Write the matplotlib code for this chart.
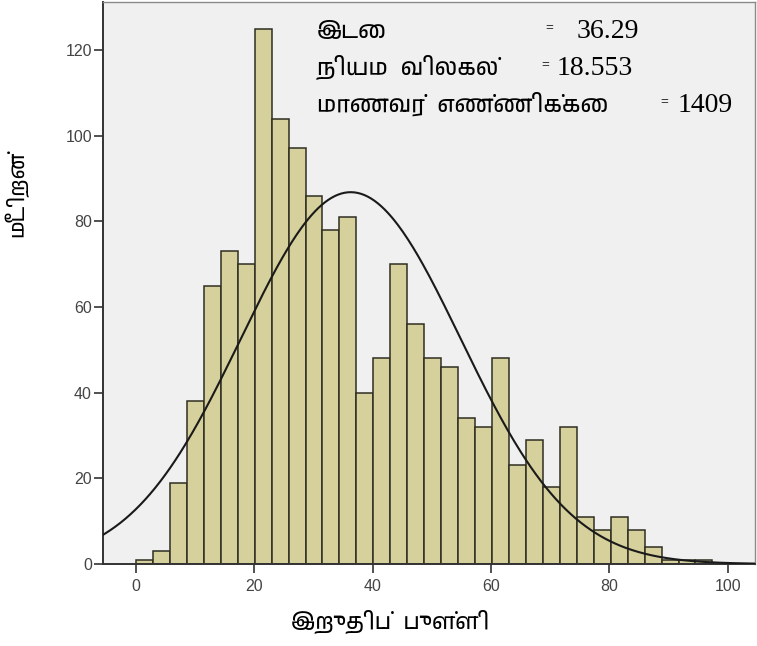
import matplotlib
matplotlib.use('Agg')
import matplotlib.pyplot as plt
from matplotlib import font_manager
import numpy as np

# histogram data (SPSS style output)
bin_start = 0.0
bin_width = 2.865
counts = [1, 3, 19, 38, 65, 73, 70, 125, 104, 97, 86, 78, 81, 40, 48, 70, 56,
          48, 46, 34, 32, 48, 23, 29, 18, 32, 11, 8, 11, 8, 4, 1, 1, 1]

mean = 36.29
sd = 18.553
n = 1409

x_ticks = [0, 20, 40, 60, 80, 100]
y_ticks = [0, 20, 40, 60, 80, 100, 120]

x_label = 'இறுதிப்  புள்ளி'
y_label = 'மீடிறன்'
stat_names = ['இடை', 'நியம  விலகல்', 'மாணவர்  எண்ணிக்கை']
stat_values = ['36.29', '18.553', '1409']

# pick a Tamil font if one is installed
tamil = sorted({f.name for f in font_manager.fontManager.ttflist if 'Tamil' in f.name})
tamil_family = tamil + ['DejaVu Sans']

W, H = 757, 646
fig = plt.figure(figsize=(W / 100, H / 100), dpi=100)
fig.patch.set_facecolor('white')

ax = fig.add_axes([103 / W, 82 / H, (755 - 103) / W, (564 - 2) / H])
ax.set_facecolor('#f0f0f0')

lefts = bin_start + np.arange(len(counts)) * bin_width
ax.bar(lefts, counts, width=bin_width, align='edge', color='#d6d09c',
       edgecolor='#2e2e22', linewidth=1.1, zorder=2)

# fitted normal curve
xs = np.linspace(-6, 106, 400)
ys = n * bin_width / (sd * np.sqrt(2 * np.pi)) * np.exp(-0.5 * ((xs - mean) / sd) ** 2)
ax.plot(xs, ys, color='#1a1a1a', linewidth=1.5, zorder=3)

ax.set_xlim(-5.57, 104.6)
ax.set_ylim(0, 131.2)
ax.set_xticks(x_ticks)
ax.set_yticks(y_ticks)
ax.tick_params(axis='both', direction='out', length=6.5, width=1.2,
               color='#333333', labelcolor='#444444', labelsize=11.5)
ax.tick_params(axis='y', pad=1.5)
ax.tick_params(axis='x', pad=4)
for lbl in ax.get_xticklabels() + ax.get_yticklabels():
    lbl.set_family(['Liberation Sans', 'DejaVu Sans'])

for side in ['left', 'bottom']:
    ax.spines[side].set_color('#333333')
    ax.spines[side].set_linewidth(1.4)
for side in ['top', 'right']:
    ax.spines[side].set_color('#8a8a8a')
    ax.spines[side].set_linewidth(1.0)

# axis titles
fig.text(16 / W, 1 - 194 / H, y_label, rotation=90, ha='center', va='center',
         fontsize=15, family=tamil_family)
fig.text(390 / W, 1 - 622 / H, x_label, ha='center', va='center',
         fontsize=16, family=tamil_family)

# statistics box
baselines = [38, 75, 112]
eq_x = [549, 545, 664]
val_x = [577, 557, 678]
for name, val, yb, ex, vx in zip(stat_names, stat_values, baselines, eq_x, val_x):
    fig.text(317 / W, 1 - yb / H, name, ha='left', va='baseline',
             fontsize=16.5, family=tamil_family)
    fig.text(ex / W, 1 - (yb - 7) / H, '=', ha='center', va='baseline',
             fontsize=10, family=['Liberation Serif', 'DejaVu Serif'])
    fig.text(vx / W, 1 - yb / H, val, ha='left', va='baseline',
             fontsize=20, family=['Liberation Serif', 'DejaVu Serif'])

fig.savefig('out.png', dpi=100)
